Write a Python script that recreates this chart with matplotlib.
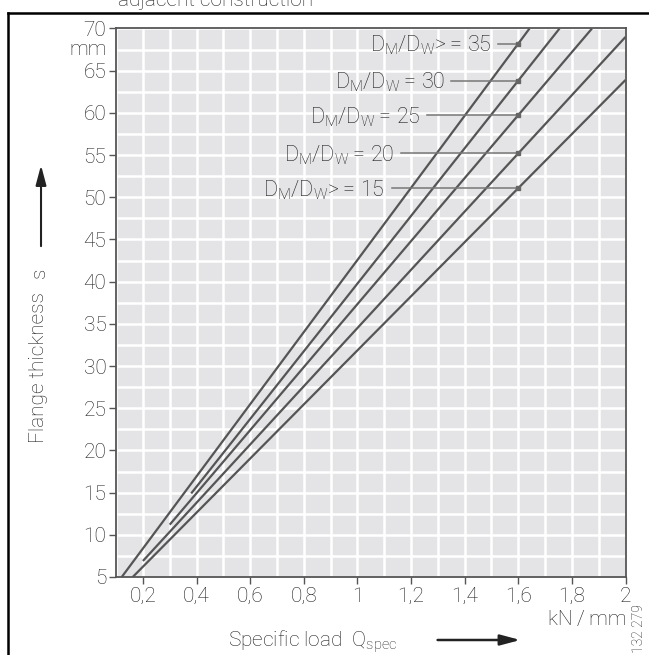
"""Flange thickness vs specific load for several D_M/D_W ratios."""

import matplotlib

matplotlib.use("Agg")
import matplotlib.pyplot as plt
import numpy as np

# one straight line per diameter ratio: start and end point (Q_spec, s)
ratios = [35, 30, 25, 20, 15]
ratio_ops = [">\u2009= ", "\u2009= ", "\u2009= ", "\u2009= ", ">\u2009= "]
q_start = [0.121, 0.38, 0.30, 0.20, 0.162]
s_start = [5.0, 14.9, 11.2, 6.9, 5.0]
q_end = [1.642, 1.754, 1.875, 2.0, 2.0]
s_end = [70.0, 70.0, 70.0, 69.0, 63.9]
q_marker = 1.6

x_ticks = [0.2, 0.4, 0.6, 0.8, 1.0, 1.2, 1.4, 1.6, 1.8, 2.0]
x_tick_labels = ["0,2", "0,4", "0,6", "0,8", "1", "1,2", "1,4", "1,6", "1,8", "2"]
y_ticks = list(range(5, 71, 5))

# right end of each label text and start of its leader (data x)
label_right = [1.501, 1.327, 1.234, 1.137, 1.103]
leader_left = [1.525, 1.350, 1.260, 1.162, 1.128]

plt.rcParams["font.family"] = ["Roboto", "DejaVu Sans"]
plt.rcParams["font.weight"] = "light"
plt.rcParams["font.size"] = 15
plt.rcParams["mathtext.default"] = "regular"

LINE = "#555555"
TEXT = "#1e1e1e"
ARROW = "-|>,head_length=0.75,head_width=0.2"

fig = plt.figure(figsize=(6.49, 6.55), dpi=100)
ax = fig.add_axes([0.1789, 0.1191, 0.9638 - 0.1789, 0.9565 - 0.1191])
ax.set_facecolor("#e4e4e6")

ax.set_xlim(0.1, 2.0)
ax.set_ylim(5, 70)
ax.set_xticks(np.arange(0.1, 2.01, 0.1), minor=True)
ax.set_yticks(np.arange(5, 70.1, 2.5), minor=True)
ax.grid(True, which="minor", color="white", linewidth=1.8)
ax.grid(True, which="major", color="white", linewidth=1.8)
ax.set_axisbelow(True)
ax.tick_params(which="minor", length=0)
ax.set_xticks(x_ticks)
ax.set_xticklabels(x_tick_labels)
ax.set_yticks(y_ticks)
ax.tick_params(which="major", length=5, width=1, color=LINE, labelcolor=TEXT,
               labelsize=15, pad=2)
for spine in ax.spines.values():
    spine.set_color(LINE)
    spine.set_linewidth(1.3)

for i, ratio in enumerate(ratios):
    ax.plot([q_start[i], q_end[i]], [s_start[i], s_end[i]], color=LINE, lw=1.6,
            solid_capstyle="butt")
    s_mark = np.interp(q_marker, [q_start[i], q_end[i]], [s_start[i], s_end[i]])
    ax.plot([leader_left[i], q_marker], [s_mark, s_mark], color="#777777", lw=1.1)
    ax.plot(q_marker, s_mark, marker="s", ms=3.5, color="#666666", mec="#666666")
    label = r"D$_{M}$/D$_{W}$" + ratio_ops[i] + str(ratio)
    ax.text(label_right[i], s_mark - 0.95, label, ha="right", va="baseline",
            fontsize=15.5, color=TEXT)

ax.text(-0.018, 66.8, "mm", transform=ax.get_yaxis_transform(), ha="right",
        va="baseline", fontsize=15, color=TEXT)

# axis titles with arrows
fig.text(0.060, 1 - 443 / 655, "Flange thickness", rotation=90, ha="center",
         va="bottom", fontsize=15, color=TEXT)
fig.text(0.061, 1 - 278 / 655, "s", rotation=90, ha="center", va="bottom",
         fontsize=15, color=TEXT)
fig.patches.append(matplotlib.patches.FancyArrowPatch(
    (0.0632, 0.620), (0.0632, 0.752), transform=fig.transFigure,
    arrowstyle=ARROW, mutation_scale=16, lw=1.5, color="#222222"))

fig.text(0.351, 0.0122, r"Specific load  Q$_{spec}$", ha="left",
         va="baseline", fontsize=15, color=TEXT)
fig.patches.append(matplotlib.patches.FancyArrowPatch(
    (0.670, 0.0229), (0.806, 0.0229), transform=fig.transFigure,
    arrowstyle=ARROW, mutation_scale=16, lw=1.8, color="#222222"))

fig.text(0.9656, 0.0458, "kN\u2009/\u2009mm", ha="right", va="baseline",
         fontsize=15, color=TEXT)
fig.text(0.984, 0.041, "132 279", rotation=90, ha="center", va="center",
         fontsize=10, color=TEXT)

# caption from the page above (cut by the page edge, as in the source) and the frame
fig.text(0.182, 1 - 6 / 655, "adjacent construction", ha="left", va="baseline",
         fontsize=15, color=TEXT)
fig.add_artist(plt.Line2D([8 / 649, 8 / 649], [0, 1 - 13 / 655], color="black",
                          lw=1.8, transform=fig.transFigure))
fig.add_artist(plt.Line2D([8 / 649, 1], [1 - 13 / 655, 1 - 13 / 655], color="black",
                          lw=1.8, transform=fig.transFigure))

fig.savefig("out.png", dpi=100)
